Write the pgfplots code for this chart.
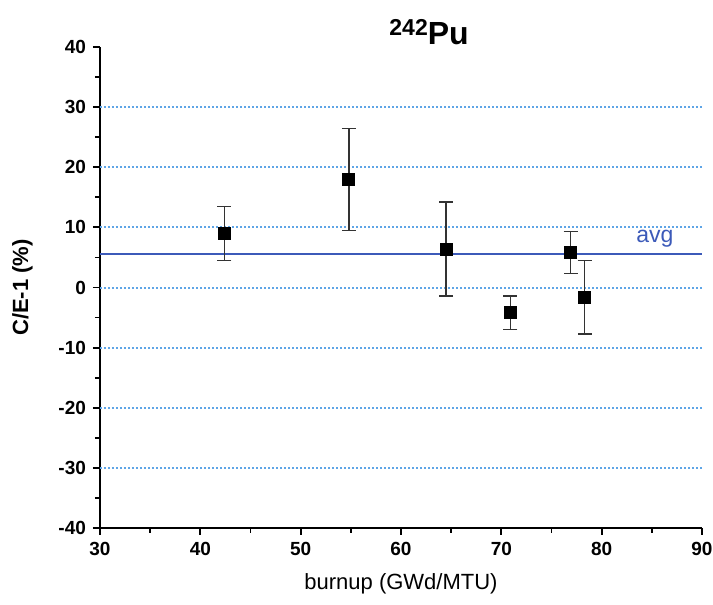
\documentclass[border=0pt]{standalone}
\usepackage{pgfplots}
\pgfplotsset{compat=1.18}
\usepackage{fontspec}
\setmainfont{Liberation Sans}
\definecolor{gridblue}{RGB}{95,165,230}
\definecolor{avgblue}{RGB}{60,90,185}
\begin{document}
\begin{tikzpicture}
\useasboundingbox (-50pt,-38.5pt) rectangle (306.5pt,264pt);
\begin{axis}[
  scale only axis,
  width=301pt, height=240.5pt,
  xmin=30, xmax=90, ymin=-40, ymax=40,
  axis lines=left,
  axis line style={line width=1pt, -},
  xtick={30,40,...,90}, ytick={-40,-30,...,40},
  minor x tick num=1, minor y tick num=1,
  tick align=outside,
  major tick length=3.5pt, minor tick length=2.5pt,
  every tick/.style={line width=0.9pt, black},
  tick label style={font=\fontsize{9.5}{10}\selectfont\bfseries},
  /pgf/number format/assume math mode=true,
  xlabel={burnup (GWd/MTU)},
  ylabel={\textbf{C/E-1 (\%)}},
  xlabel style={font=\fontsize{11}{12}\selectfont, yshift=-2pt},
  ylabel style={font=\fontsize{11}{12}\selectfont, yshift=6pt},
  clip=false,
]
\pgfplotsinvokeforeach{-30,-20,-10,0,10,20,30}{
  \draw[gridblue, line width=1pt, dash pattern=on 1pt off 1pt] (axis cs:30,#1) -- (axis cs:90,#1);
}
\addplot[avgblue, line width=1pt] coordinates {(30,5.5) (90,5.5)};
\node[avgblue, font=\fontsize{11.5}{12}\selectfont] at (axis cs:85.3,8.1) {avg};
\addplot[only marks, mark=square*, mark size=3pt, black,
  error bars/.cd, y dir=both, y explicit,
  error bar style={line width=0.75pt, black!80},
  error mark options={rotate=90, mark size=3.5pt, line width=0.75pt, black!80}]
  coordinates {
  (42.4,9.0) +- (0,4.5)
  (54.8,17.95) +- (0,8.5)
  (64.5,6.4) +- (0,7.8)
  (70.9,-4.2) +- (0,2.8)
  (76.9,5.85) +- (0,3.5)
  (78.3,-1.65) +- (0,6.1)
  };
\node[font=\fontsize{16}{18}\selectfont\bfseries, anchor=base] at (axis cs:62.8,40.4) {\raisebox{0.55ex}{\fontsize{11.5}{12}\selectfont 242}Pu};
\end{axis}
\end{tikzpicture}
\end{document}
